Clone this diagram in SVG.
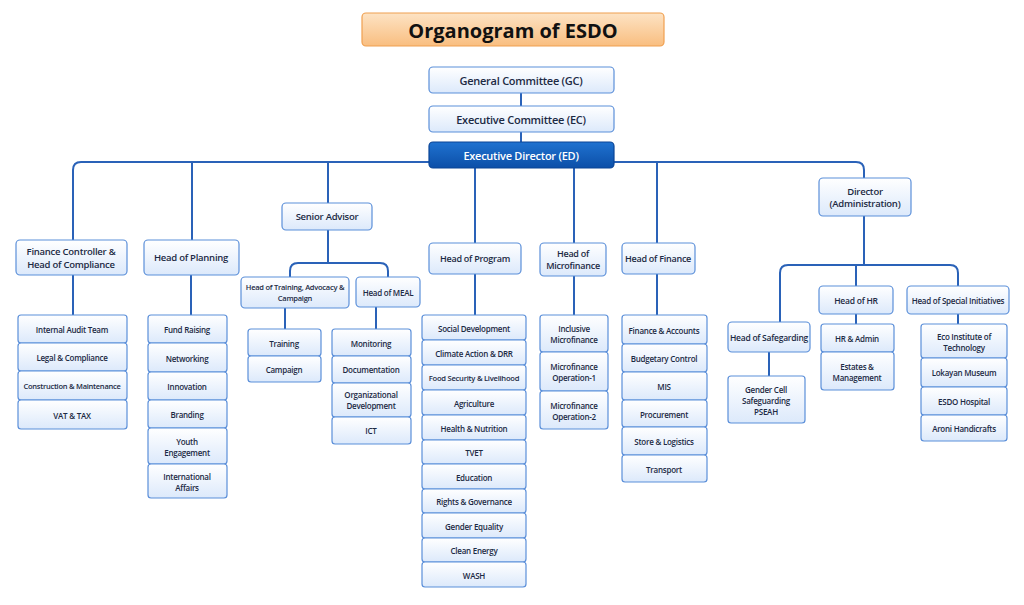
<svg xmlns="http://www.w3.org/2000/svg" width="1024" height="605" viewBox="0 0 1024 605">
<defs>
<linearGradient id="gn" x1="0" y1="0" x2="0" y2="1"><stop offset="0" stop-color="#ffffff"/><stop offset="1" stop-color="#dce9fb"/></linearGradient>
<linearGradient id="gd" x1="0" y1="0" x2="0" y2="1"><stop offset="0" stop-color="#1f72d0"/><stop offset="1" stop-color="#0c4fa8"/></linearGradient>
<linearGradient id="gt" x1="0" y1="0" x2="0" y2="1"><stop offset="0" stop-color="#fde3c4"/><stop offset="1" stop-color="#f9be80"/></linearGradient>
</defs>
<style>
rect{fill:url(#gn);stroke:#5b8fd9;stroke-width:1.2}
text{font-family:"Open Sans","Liberation Sans",sans-serif;font-weight:600;fill:#1c2a44;text-anchor:middle;dominant-baseline:central;letter-spacing:-0.25px}
.h text{font-size:9.5px}
.c text{font-size:8px}
.top text{font-size:11px}
#conn path{fill:none;stroke:#2a62b8;stroke-width:2;stroke-linejoin:round}
</style>
<rect width="1024" height="605" style="fill:#ffffff;stroke:none"/>
<g id="title"><rect x="362" y="13" width="302" height="33" rx="4" style="fill:url(#gt);stroke:#f0a050"/><text x="513" y="30" style="font-size:20px;font-weight:700;fill:#111;letter-spacing:0">Organogram of ESDO</text></g>
<g id="conn">
<path d="M521 93V106M521 132V142"/>
<path d="M73 240V170Q73 162 81 162H856Q864 162 864 170V178"/>
<path d="M192 162V240M328 162V203M475 162V243M574 162V243M657 162V243"/>
<path d="M328 230V263M290 277V271Q290 263 298 263H380Q388 263 388 271V277"/>
<path d="M864 216V265M780 322V273Q780 265 788 265H950Q958 265 958 273V286M856 265V286"/>
<path d="M73 275V315M191 275V315M285 308V329M376 307V329M475 274V315M574 276V315M657 274V315M769 352V376M856 314V324M958 314V324"/>
</g>
<g class="top">
<g id="gc"><rect x="429" y="67" width="185" height="26" rx="4"/><text x="521" y="80">General Committee (GC)</text></g>
<g id="ec"><rect x="429" y="106" width="185" height="26" rx="4"/><text x="521" y="119">Executive Committee (EC)</text></g>
<g id="ed"><rect x="429" y="142" width="185" height="26" rx="4" style="fill:url(#gd);stroke:#0b4596"/><text x="521" y="155" style="fill:#fff">Executive Director (ED)</text></g>
</g>
<g class="h">
<g id="fc"><rect x="16" y="240" width="111" height="35" rx="4"/><text x="71" y="251">Finance Controller &amp;</text><text x="71" y="264">Head of Compliance</text></g>
<g id="hp"><rect x="144" y="240" width="95" height="35" rx="4"/><text x="191" y="257">Head of Planning</text></g>
<g id="sa"><rect x="282" y="203" width="90" height="27" rx="4"/><text x="327" y="216">Senior Advisor</text></g>
<g id="ht"><rect x="241" y="277" width="108" height="31" rx="4"/><text x="295" y="287" style="font-size:7.5px">Head of Training, Advocacy &amp;</text><text x="295" y="298" style="font-size:7.5px">Campaign</text></g>
<g id="hm"><rect x="356" y="277" width="64" height="30" rx="4"/><text x="388" y="292" style="font-size:8px">Head of MEAL</text></g>
<g id="hpr"><rect x="429" y="243" width="92" height="31" rx="4"/><text x="475" y="258" style="font-size:9px">Head of Program</text></g>
<g id="hmf"><rect x="540" y="243" width="66" height="33" rx="4"/><text x="573" y="253" style="font-size:9px">Head of</text><text x="573" y="265" style="font-size:9px">Microfinance</text></g>
<g id="hf"><rect x="622" y="243" width="73" height="31" rx="4"/><text x="658" y="258" style="font-size:9px">Head of Finance</text></g>
<g id="dir"><rect x="819" y="178" width="92" height="38" rx="4"/><text x="865" y="191">Director</text><text x="865" y="203">(Administration)</text></g>
<g id="hs"><rect x="728" y="322" width="82" height="30" rx="4"/><text x="769" y="337" style="font-size:8.5px">Head of Safegarding</text></g>
<g id="hhr"><rect x="819" y="286" width="74" height="28" rx="4"/><text x="856" y="300" style="font-size:8.5px">Head of HR</text></g>
<g id="hsi"><rect x="907" y="286" width="102" height="28" rx="4"/><text x="958" y="300" style="font-size:8px">Head of Special Initiatives</text></g>
</g>
<g class="c">
<g id="c1"><rect x="18" y="315" width="109" height="28" rx="3"/><text x="72" y="329">Internal Audit Team</text></g>
<g id="c2"><rect x="18" y="343" width="109" height="28" rx="3"/><text x="72" y="357">Legal &amp; Compliance</text></g>
<g id="c3"><rect x="18" y="371" width="109" height="29" rx="3"/><text x="72" y="386" style="font-size:7.5px">Construction &amp; Maintenance</text></g>
<g id="c4"><rect x="18" y="400" width="109" height="29" rx="3"/><text x="72" y="415">VAT &amp; TAX</text></g>

<g id="p1"><rect x="148" y="315" width="79" height="28" rx="3"/><text x="187" y="329">Fund Raising</text></g>
<g id="p2"><rect x="148" y="343" width="79" height="29" rx="3"/><text x="187" y="358">Networking</text></g>
<g id="p3"><rect x="148" y="372" width="79" height="28" rx="3"/><text x="187" y="386">Innovation</text></g>
<g id="p4"><rect x="148" y="400" width="79" height="28" rx="3"/><text x="187" y="414">Branding</text></g>
<g id="p5"><rect x="148" y="428" width="79" height="36" rx="3"/><text x="187" y="441">Youth</text><text x="187" y="452">Engagement</text></g>
<g id="p6"><rect x="148" y="464" width="79" height="34" rx="3"/><text x="187" y="476">International</text><text x="187" y="487">Affairs</text></g>

<g id="t1"><rect x="248" y="329" width="73" height="27" rx="3"/><text x="284" y="343">Training</text></g>
<g id="t2"><rect x="248" y="356" width="73" height="26" rx="3"/><text x="284" y="369">Campaign</text></g>

<g id="m1"><rect x="332" y="329" width="79" height="27" rx="3"/><text x="371" y="343">Monitoring</text></g>
<g id="m2"><rect x="332" y="356" width="79" height="27" rx="3"/><text x="371" y="369">Documentation</text></g>
<g id="m3"><rect x="332" y="383" width="79" height="34" rx="3"/><text x="371" y="394">Organizational</text><text x="371" y="405">Development</text></g>
<g id="m4"><rect x="332" y="417" width="79" height="27" rx="3"/><text x="371" y="430">ICT</text></g>

<g id="g1"><rect x="422" y="315" width="104" height="25" rx="3"/><text x="474" y="328">Social Development</text></g>
<g id="g2"><rect x="422" y="340" width="104" height="25" rx="3"/><text x="474" y="353">Climate Action &amp; DRR</text></g>
<g id="g3"><rect x="422" y="365" width="104" height="25" rx="3"/><text x="474" y="378" style="font-size:7.6px">Food Security &amp; Livelihood</text></g>
<g id="g4"><rect x="422" y="390" width="104" height="25" rx="3"/><text x="474" y="403">Agriculture</text></g>
<g id="g5"><rect x="422" y="415" width="104" height="25" rx="3"/><text x="474" y="428">Health &amp; Nutrition</text></g>
<g id="g6"><rect x="422" y="440" width="104" height="24" rx="3"/><text x="474" y="452">TVET</text></g>
<g id="g7"><rect x="422" y="464" width="104" height="25" rx="3"/><text x="474" y="477">Education</text></g>
<g id="g8"><rect x="422" y="489" width="104" height="24" rx="3"/><text x="474" y="501">Rights &amp; Governance</text></g>
<g id="g9"><rect x="422" y="513" width="104" height="25" rx="3"/><text x="474" y="526">Gender Equality</text></g>
<g id="g10"><rect x="422" y="538" width="104" height="24" rx="3"/><text x="474" y="550">Clean Energy</text></g>
<g id="g11"><rect x="422" y="562" width="104" height="25" rx="3"/><text x="474" y="575">WASH</text></g>

<g id="mf1"><rect x="540" y="315" width="68" height="37" rx="3"/><text x="574" y="328">Inclusive</text><text x="574" y="339">Microfinance</text></g>
<g id="mf2"><rect x="540" y="352" width="68" height="39" rx="3"/><text x="574" y="366">Microfinance</text><text x="574" y="377">Operation-1</text></g>
<g id="mf3"><rect x="540" y="391" width="68" height="38" rx="3"/><text x="574" y="405">Microfinance</text><text x="574" y="416">Operation-2</text></g>

<g id="f1"><rect x="622" y="315" width="85" height="29" rx="3"/><text x="664" y="330">Finance &amp; Accounts</text></g>
<g id="f2"><rect x="622" y="344" width="85" height="28" rx="3"/><text x="664" y="358">Budgetary Control</text></g>
<g id="f3"><rect x="622" y="372" width="85" height="28" rx="3"/><text x="664" y="386">MIS</text></g>
<g id="f4"><rect x="622" y="400" width="85" height="27" rx="3"/><text x="664" y="414">Procurement</text></g>
<g id="f5"><rect x="622" y="427" width="85" height="28" rx="3"/><text x="664" y="441">Store &amp; Logistics</text></g>
<g id="f6"><rect x="622" y="455" width="85" height="27" rx="3"/><text x="664" y="469">Transport</text></g>

<g id="s1"><rect x="728" y="376" width="77" height="47" rx="3"/><text x="766" y="389">Gender Cell</text><text x="766" y="400">Safeguarding</text><text x="766" y="411">PSEAH</text></g>

<g id="r1"><rect x="821" y="324" width="73" height="28" rx="3"/><text x="857" y="338">HR &amp; Admin</text></g>
<g id="r2"><rect x="821" y="352" width="73" height="38" rx="3"/><text x="857" y="366">Estates &amp;</text><text x="857" y="377">Management</text></g>

<g id="e1"><rect x="921" y="324" width="86" height="34" rx="3"/><text x="964" y="336">Eco Institute of</text><text x="964" y="347">Technology</text></g>
<g id="e2"><rect x="921" y="358" width="86" height="29" rx="3"/><text x="964" y="372">Lokayan Museum</text></g>
<g id="e3"><rect x="921" y="387" width="86" height="28" rx="3"/><text x="964" y="401">ESDO Hospital</text></g>
<g id="e4"><rect x="921" y="415" width="86" height="26" rx="3"/><text x="964" y="428">Aroni Handicrafts</text></g>
</g>
</svg>
